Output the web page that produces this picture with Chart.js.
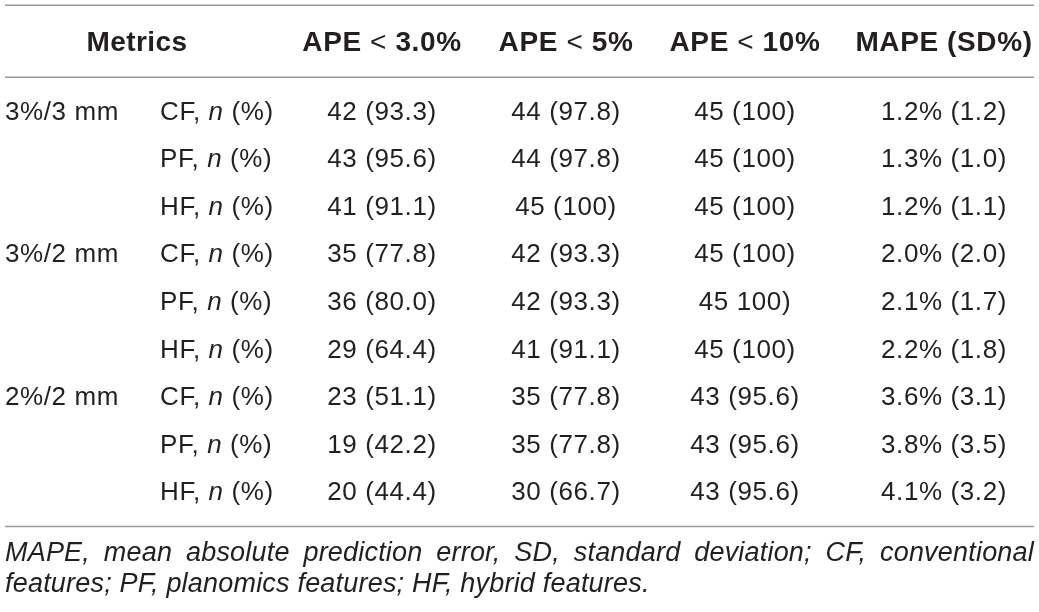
<!DOCTYPE html>
<html lang="en">
<head>
  <meta charset="utf-8" />
  <title>APE / MAPE table</title>
  <script src="https://cdn.jsdelivr.net/npm/chart.js"></script>
  <style>
    html, body {
      margin: 0;
      padding: 0;
      background: #fff;
    }
    #chart-container {
      width: 1039px;
      height: 612px;
    }
  </style>
</head>
<body>
  <div id="chart-container">
    <canvas id="tableChart"></canvas>
  </div>

  <script>
    const groupLabels = ["3%/3 mm", "3%/2 mm", "2%/2 mm"];
    const featureLabels = ["CF", "PF", "HF"];
    const headerLabels = ["Metrics", "APE < 3.0%", "APE < 5%", "APE < 10%", "MAPE (SD%)"];

    const ape3 = ["42 (93.3)", "43 (95.6)", "41 (91.1)", "35 (77.8)", "36 (80.0)", "29 (64.4)", "23 (51.1)", "19 (42.2)", "20 (44.4)"];
    const ape5 = ["44 (97.8)", "44 (97.8)", "45 (100)", "42 (93.3)", "42 (93.3)", "41 (91.1)", "35 (77.8)", "35 (77.8)", "30 (66.7)"];
    const ape10 = ["45 (100)", "45 (100)", "45 (100)", "45 (100)", "45 100)", "45 (100)", "43 (95.6)", "43 (95.6)", "43 (95.6)"];
    const mape = ["1.2% (1.2)", "1.3% (1.0)", "1.2% (1.1)", "2.0% (2.0)", "2.1% (1.7)", "2.2% (1.8)", "3.6% (3.1)", "3.8% (3.5)", "4.1% (3.2)"];

    const footnote = [
      "MAPE, mean absolute prediction error, SD, standard deviation; CF, conventional",
      "features; PF, planomics features; HF, hybrid features."
    ];

    // ---- layout (table units along x, 0..tableWidth) ----
    const tableWidth = 1039;
    const groupLeft = 5;
    const featureLeft = 160;
    const metricsCenter = 137;
    const valueCenters = [382, 566, 745, 944];
    const ruleLeft = 5, ruleRight = 1034;

    const FONT = "'Liberation Sans', Arial, Helvetica, sans-serif";
    const TEXT = "#231f20";
    const RULE = "#9a9a9a";

    // rows: one per group x feature
    const rowKeys = [];
    groupLabels.forEach(g => featureLabels.forEach(f => rowKeys.push(g + "|" + f)));

    const groupTexts = rowKeys.map((k, i) => (i % featureLabels.length === 0 ? k.split("|")[0] : ""));
    const featureTexts = rowKeys.map(k => k.split("|")[1] + ", _n_ (%)");

    function column(x, texts, align) {
      return {
        data: rowKeys.map(k => ({ x: x, y: k })),
        texts: texts,
        align: align,
        pointRadius: 0,
        pointHoverRadius: 0
      };
    }

    const datasets = [
      column(groupLeft, groupTexts, "left"),
      column(featureLeft, featureTexts, "left"),
      column(valueCenters[0], ape3, "center"),
      column(valueCenters[1], ape5, "center"),
      column(valueCenters[2], ape10, "center"),
      column(valueCenters[3], mape, "center")
    ];

    // "_x_" -> italic x; in bold headers "<" is drawn regular
    function parse(text, bold) {
      const segs = [];
      text.split("_").forEach((part, i) => {
        if (!part) return;
        const italic = i % 2 === 1;
        if (bold) {
          part.split(/(<)/).forEach(p => {
            if (p) segs.push({ t: p, bold: p !== "<", italic: italic });
          });
        } else {
          segs.push({ t: part, bold: false, italic: italic });
        }
      });
      return segs;
    }

    function fontOf(seg, size) {
      return (seg.italic ? "italic " : "") + (seg.bold ? "bold " : "") + size + "px " + FONT;
    }

    function drawRich(ctx, text, x, y, align, size, bold, spacing) {
      ctx.letterSpacing = spacing + "px";
      const segs = parse(text, bold);
      let total = 0;
      segs.forEach(s => { ctx.font = fontOf(s, size); s.w = ctx.measureText(s.t).width; total += s.w; });
      let cx = align === "center" ? x - total / 2 : x;
      segs.forEach(s => {
        ctx.font = fontOf(s, size);
        ctx.fillText(s.t, cx, y);
        cx += s.w;
      });
      ctx.letterSpacing = "0px";
    }

    function rule(ctx, xs, y) {
      ctx.beginPath();
      ctx.moveTo(xs.getPixelForValue(ruleLeft), y);
      ctx.lineTo(xs.getPixelForValue(ruleRight), y);
      ctx.stroke();
    }

    const tablePlugin = {
      id: "tableText",
      afterDatasetsDraw(chart) {
        const ctx = chart.ctx;
        const area = chart.chartArea;
        const xs = chart.scales.x;
        ctx.save();
        ctx.fillStyle = TEXT;
        ctx.textAlign = "left";
        ctx.textBaseline = "middle";

        // body cells at the points placed by the scales
        chart.data.datasets.forEach((ds, i) => {
          chart.getDatasetMeta(i).data.forEach((pt, j) => {
            const t = ds.texts[j];
            if (t) drawRich(ctx, t, pt.x, pt.y, ds.align, 26, false, 0.6);
          });
        });

        // header row
        const hy = area.top - 45;
        drawRich(ctx, headerLabels[0], xs.getPixelForValue(metricsCenter), hy, "center", 28, true, 0.4);
        valueCenters.forEach((c, i) => {
          drawRich(ctx, headerLabels[i + 1], xs.getPixelForValue(c), hy, "center", 28, true, 0.6);
        });

        // rules
        ctx.strokeStyle = RULE;
        ctx.lineWidth = 1.6;
        rule(ctx, xs, area.top - 83.5);
        rule(ctx, xs, area.top - 11.5);
        rule(ctx, xs, area.bottom + 9.5);

        // footnote, first line justified
        ctx.font = "italic 27px " + FONT;
        ctx.letterSpacing = "0.2px";
        const left = xs.getPixelForValue(ruleLeft);
        const right = xs.getPixelForValue(ruleRight);
        const words = footnote[0].split(" ");
        const widths = words.map(w => ctx.measureText(w).width);
        const gap = (right - left - widths.reduce((a, b) => a + b, 0)) / (words.length - 1);
        let wx = left;
        words.forEach((w, i) => { ctx.fillText(w, wx, area.bottom + 36); wx += widths[i] + gap; });
        ctx.fillText(footnote[1], left, area.bottom + 67);

        ctx.restore();
      }
    };

    new Chart(document.getElementById("tableChart"), {
      type: "scatter",
      data: { datasets: datasets },
      options: {
        responsive: true,
        maintainAspectRatio: false,
        animation: false,
        events: [],
        layout: { padding: { top: 88.7, bottom: 95, left: 0, right: 0 } },
        scales: {
          x: { type: "linear", min: 0, max: tableWidth, display: false },
          y: { type: "category", labels: rowKeys, offset: true, display: false }
        },
        plugins: {
          legend: { display: false },
          tooltip: { enabled: false }
        }
      },
      plugins: [tablePlugin]
    });
  </script>
</body>
</html>
